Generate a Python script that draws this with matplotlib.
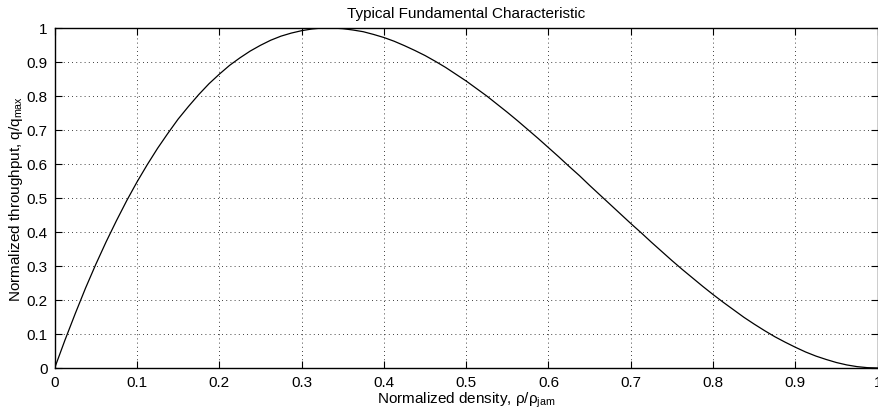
import matplotlib
matplotlib.use("Agg")
import matplotlib.pyplot as plt
import numpy as np

plt.rcParams['font.family'] = ['Liberation Sans', 'DejaVu Sans']
plt.rcParams['mathtext.fontset'] = 'custom'
plt.rcParams['mathtext.rm'] = 'Liberation Sans'
plt.rcParams['mathtext.default'] = 'regular'

density = np.linspace(0, 1, 81)
throughput = [0.0, 0.082, 0.160, 0.235, 0.305, 0.371, 0.433, 0.492,
              0.547, 0.598, 0.646, 0.690, 0.732, 0.769, 0.804, 0.836,
              0.864, 0.890, 0.912, 0.932, 0.949, 0.964, 0.976, 0.985,
              0.992, 0.997, 1.0, 1.0, 0.998, 0.994, 0.989, 0.981,
              0.972, 0.961, 0.948, 0.934, 0.919, 0.902, 0.884, 0.864,
              0.844, 0.822, 0.800, 0.776, 0.752, 0.727, 0.701, 0.675,
              0.648, 0.621, 0.593, 0.566, 0.537, 0.509, 0.481, 0.453,
              0.425, 0.398, 0.370, 0.343, 0.316, 0.290, 0.265, 0.240,
              0.216, 0.193, 0.171, 0.149, 0.129, 0.110, 0.092, 0.076,
              0.061, 0.047, 0.035, 0.025, 0.016, 0.009, 0.004, 0.001, 0.0]
xticks = [0, 0.1, 0.2, 0.3, 0.4, 0.5, 0.6, 0.7, 0.8, 0.9, 1]
xticklabels = ['0', '0.1', '0.2', '0.3', '0.4', '0.5', '0.6', '0.7', '0.8', '0.9', '1']
yticks = xticks
yticklabels = xticklabels

fig = plt.figure(figsize=(8.79, 4.14), dpi=100)
ax = fig.add_axes([0.0622, 0.1087, 0.9363, 0.8213])

ax.plot(density, throughput, color='black', linewidth=0.9)

ax.set_xlim(0, 1)
ax.set_ylim(0, 1)
ax.set_xticks(xticks)
ax.set_xticklabels(xticklabels)
ax.set_yticks(yticks)
ax.set_yticklabels(yticklabels)
ax.tick_params(direction='in', top=True, right=True, length=5, width=0.8,
               labelsize=11)
ax.tick_params(axis='x', pad=5)
ax.tick_params(axis='y', pad=5)
ax.grid(True, linestyle=(0, (1, 4)), color='black', linewidth=0.6)
for s in ax.spines.values():
    s.set_linewidth(1.0)

ax.set_title('Typical Fundamental Characteristic', fontsize=11, pad=8)
ax.set_xlabel('Normalized density, ρ/ρ$_{jam}$', fontsize=11, labelpad=0.5)
ax.set_ylabel('Normalized throughput, q/q$_{max}$', fontsize=11, labelpad=1)

fig.savefig('out.png', dpi=100)
